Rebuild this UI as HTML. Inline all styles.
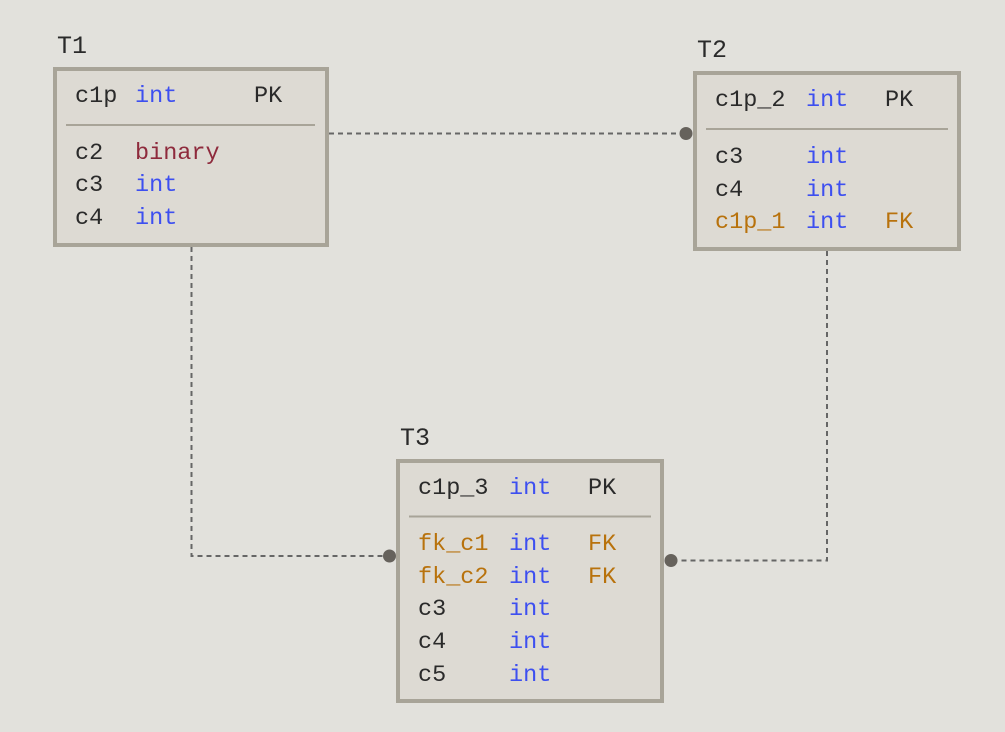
<!DOCTYPE html>
<html><head><style>
html,body{margin:0;padding:0;background:#e2e1dc;}
svg{display:block}
text{font-family:"Liberation Mono",monospace;font-size:23.5px;fill:#2a2a2a}
.b{fill:#3d4ff0}.r{fill:#8e2a3c}.o{fill:#b8720c}
</style></head><body>
<svg width="1005" height="732" viewBox="0 0 1005 732">
<rect width="1005" height="732" fill="#e2e1dc"/>
<g stroke="#666" stroke-width="2" stroke-dasharray="5,4" fill="none">
<path d="M329 133.5H686"/>
<path d="M191.5 247V556H389"/>
<path d="M827 251V560.5H671"/>
</g>
<g fill="#66625c">
<circle cx="686" cy="133.5" r="6.5"/>
<circle cx="389.5" cy="556" r="6.5"/>
<circle cx="671" cy="560.5" r="6.5"/>
</g>
<g fill="#dddad3" stroke="#a8a498" stroke-width="4">
<rect x="55" y="69" width="272" height="176"/>
<rect x="695" y="73" width="264" height="176"/>
<rect x="398" y="461" width="264" height="240"/>
</g>
<g stroke="#a8a498" stroke-width="2">
<path d="M66 125H315"/>
<path d="M706 129H948"/>
<path d="M409 516.5H651"/>
</g>
<text x="57" y="53" style="font-size:25px">T1</text>
<text x="697" y="57" style="font-size:25px">T2</text>
<text x="400" y="445" style="font-size:25px">T3</text>

<text x="75" y="102">c1p</text><text class="b" x="135" y="102">int</text><text x="254" y="102">PK</text>
<text x="75" y="159">c2</text><text class="r" x="135" y="159">binary</text>
<text x="75" y="191">c3</text><text class="b" x="135" y="191">int</text>
<text x="75" y="224">c4</text><text class="b" x="135" y="224">int</text>

<text x="715" y="106">c1p_2</text><text class="b" x="806" y="106">int</text><text x="885" y="106">PK</text>
<text x="715" y="163">c3</text><text class="b" x="806" y="163">int</text>
<text x="715" y="196">c4</text><text class="b" x="806" y="196">int</text>
<text class="o" x="715" y="228">c1p_1</text><text class="b" x="806" y="228">int</text><text class="o" x="885" y="228">FK</text>

<text x="418" y="494">c1p_3</text><text class="b" x="509" y="494">int</text><text x="588" y="494">PK</text>
<text class="o" x="418" y="550">fk_c1</text><text class="b" x="509" y="550">int</text><text class="o" x="588" y="550">FK</text>
<text class="o" x="418" y="583">fk_c2</text><text class="b" x="509" y="583">int</text><text class="o" x="588" y="583">FK</text>
<text x="418" y="615">c3</text><text class="b" x="509" y="615">int</text>
<text x="418" y="648">c4</text><text class="b" x="509" y="648">int</text>
<text x="418" y="681">c5</text><text class="b" x="509" y="681">int</text>
</svg>
</body></html>
